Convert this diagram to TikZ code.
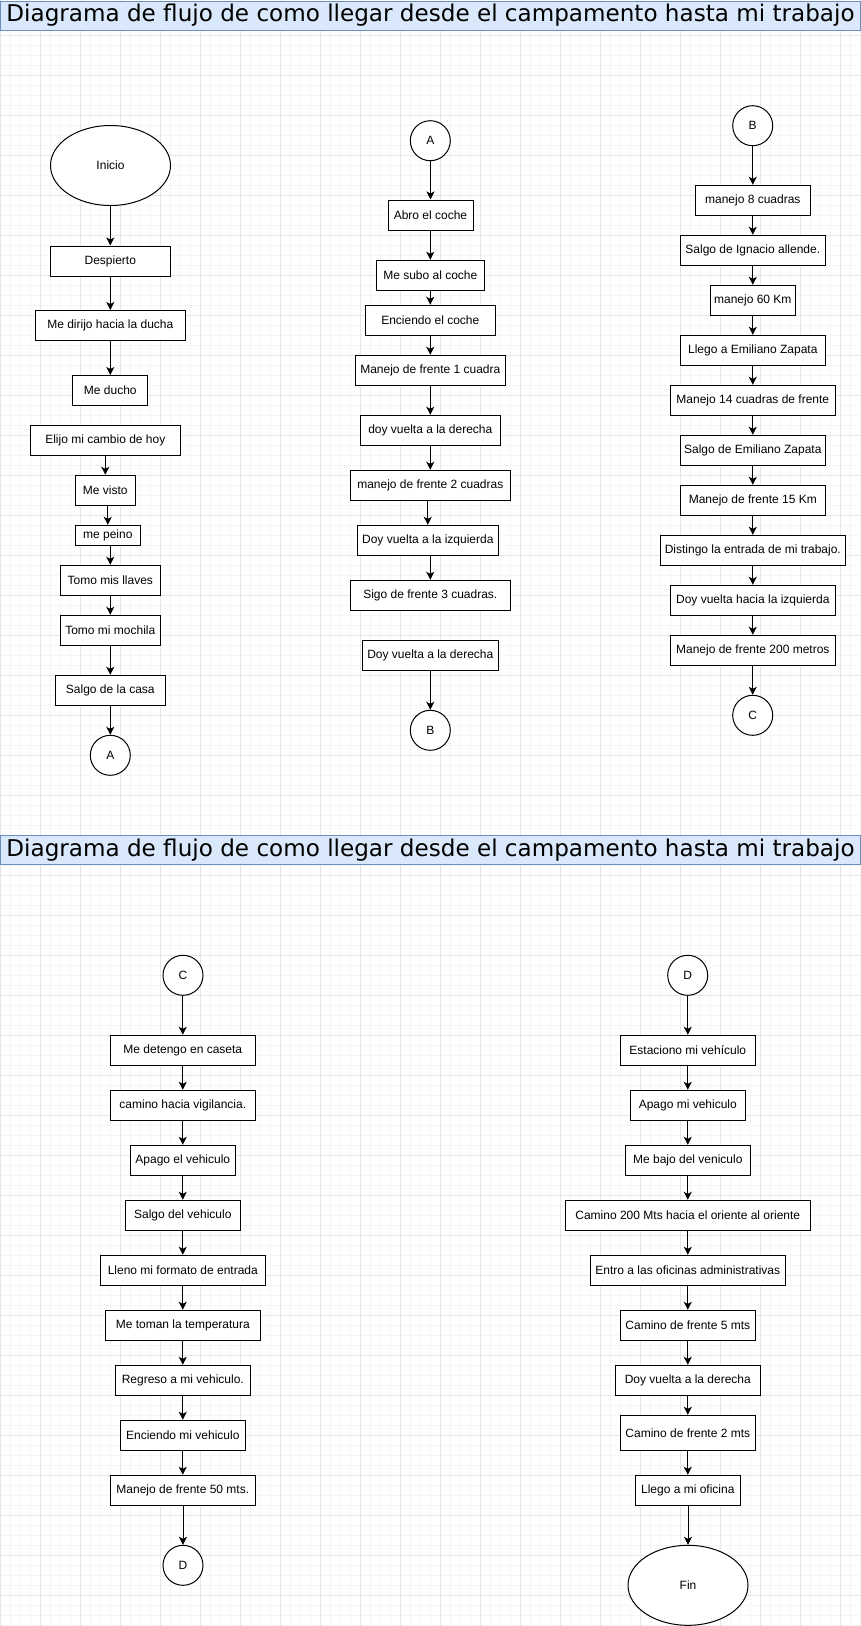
\documentclass[tikz,border=0pt]{standalone}
\usepackage{fontspec}
\usepackage{graphicx}
\setmainfont{Liberation Sans}
\newfontfamily\titlefont{DejaVu Sans}
\usetikzlibrary{shapes.geometric,arrows.meta,calc}
\definecolor{gridminor}{HTML}{F5F5F5}
\definecolor{gridmajor}{HTML}{E6E6E6}
\definecolor{titlefill}{HTML}{DAE8FC}
\definecolor{titledraw}{HTML}{6C8EBF}
\tikzset{
  box/.style={draw, fill=white, line width=1pt, inner sep=0pt, minimum height=30pt,
              font=\fontsize{12}{14}\selectfont},
  oval/.style={ellipse, draw, fill=white, line width=1pt, inner sep=0pt,
              minimum width=120pt, minimum height=80pt, font=\fontsize{12}{14}\selectfont},
  conn/.style={circle, draw, fill=white, line width=1pt, inner sep=0pt,
              minimum size=40pt, font=\fontsize{12}{14}\selectfont},
  titlebar/.style={draw=titledraw, fill=titlefill, line width=1pt, inner sep=0pt,
              minimum width=860pt, minimum height=29pt},
  arr/.style={line width=1pt, -{Stealth[length=8pt,width=8pt,inset=2pt]}}
}
\newcommand{\ttltext}{\resizebox{848pt}{!}{\titlefont Diagrama de flujo de como llegar desde el campamento hasta mi trabajo}}
\begin{document}
\begin{tikzpicture}[x=1pt,y=-1pt]
\useasboundingbox (0,0) rectangle (861,1626);
\fill[white] (0,0) rectangle (861,1626);
% grid
\foreach \x in {0,10,...,860} \draw[gridminor, line width=0.7pt] (\x,0) -- (\x,1626);
\foreach \y in {5,15,...,1625} \draw[gridminor, line width=0.7pt] (0,\y) -- (861,\y);
\foreach \x in {0,40,...,860} \draw[gridmajor, line width=0.7pt] (\x,0) -- (\x,1626);
\foreach \y in {35,75,...,1625} \draw[gridmajor, line width=0.7pt] (0,\y) -- (861,\y);
% titles
\node[titlebar] (t1) at (430.5,15.5) {\ttltext};
\node[titlebar] (t2) at (430.5,850) {\ttltext};
% left column (top)
\node[oval] (inicio) at (110.5,165.5) {Inicio};
\node[box, minimum width=120pt] (despierto) at (110.3,261) {Despierto};
\node[box, minimum width=150pt] (dirijo) at (110.3,325.5) {Me dirijo hacia la ducha};
\node[box, minimum width=75pt] (ducho) at (110.3,390.5) {Me ducho};
\node[box, minimum width=150pt] (elijo) at (105.3,440.3) {Elijo mi cambio de hoy};
\node[box, minimum width=60pt] (visto) at (105.3,490.3) {Me visto};
\node[box, minimum width=65pt, minimum height=20pt] (peino) at (107.8,535.3) {me peino};
\node[box, minimum width=100pt] (llaves) at (110.3,580.3) {Tomo mis llaves};
\node[box, minimum width=100pt] (mochila) at (110.3,630.3) {Tomo mi mochila};
\node[box, minimum width=110pt] (casa) at (110.3,690.3) {Salgo de la casa};
\node[conn] (A1) at (110.3,755.3) {A};
% middle column
\node[conn] (A2) at (430.3,140.7) {A};
\node[box, minimum width=85pt] (abro) at (430.5,215) {Abro el coche};
\node[box, minimum width=108pt] (subo) at (430.3,275.3) {Me subo al coche};
\node[box, minimum width=130pt] (enc) at (430.3,320.3) {Enciendo el coche};
\node[box, minimum width=150pt] (man1) at (430.3,370.3) {Manejo de frente 1 cuadra};
\node[box, minimum width=140pt] (doyder) at (430.3,430.3) {doy vuelta a la derecha};
\node[box, minimum width=160pt] (man2) at (430.3,485.3) {manejo de frente 2 cuadras};
\node[box, minimum width=141pt] (izq) at (427.8,540.3) {Doy vuelta a la izquierda};
\node[box, minimum width=160pt] (sigo) at (430.3,595.3) {Sigo de frente 3 cuadras.};
\node[box, minimum width=136pt] (der2) at (430.3,655.3) {Doy vuelta a la derecha};
\node[conn] (B1) at (430.3,730.3) {B};
% right column
\node[conn] (B2) at (752.7,125.7) {B};
\node[box, minimum width=115pt] (r1) at (752.8,200.3) {manejo 8 cuadras};
\node[box, minimum width=145pt] (r2) at (752.8,250.3) {Salgo de Ignacio allende.};
\node[box, minimum width=85pt] (r3) at (752.8,300.3) {manejo 60 Km};
\node[box, minimum width=145pt] (r4) at (752.8,350.3) {Llego a Emiliano Zapata};
\node[box, minimum width=165pt] (r5) at (752.8,400.3) {Manejo 14 cuadras de frente};
\node[box, minimum width=145pt] (r6) at (752.8,450.3) {Salgo de Emiliano Zapata};
\node[box, minimum width=145pt] (r7) at (752.8,500.3) {Manejo de frente 15 Km};
\node[box, minimum width=185pt] (r8) at (752.8,550.3) {Distingo la entrada de mi trabajo.};
\node[box, minimum width=165pt] (r9) at (752.8,600.3) {Doy vuelta hacia la izquierda};
\node[box, minimum width=165pt] (r10) at (752.8,650.3) {Manejo de frente 200 metros};
\node[conn] (C1) at (752.7,715.3) {C};
% bottom left column
\node[conn] (C2) at (183,975.3) {C};
\node[box, minimum width=145pt] (l1) at (182.8,1050.3) {Me detengo en caseta};
\node[box, minimum width=145pt] (l2) at (182.8,1105.3) {camino hacia vigilancia.};
\node[box, minimum width=105pt] (l3) at (182.8,1160.3) {Apago el vehiculo};
\node[box, minimum width=115pt] (l4) at (182.8,1215.3) {Salgo del vehiculo};
\node[box, minimum width=165pt] (l5) at (182.8,1270.3) {Lleno mi formato de entrada};
\node[box, minimum width=155pt] (l6) at (182.8,1325.3) {Me toman la temperatura};
\node[box, minimum width=135pt] (l7) at (182.8,1380.3) {Regreso a mi vehiculo.};
\node[box, minimum width=125pt] (l8) at (182.8,1435.3) {Enciendo mi vehiculo};
\node[box, minimum width=145pt] (l9) at (182.8,1490.3) {Manejo de frente 50 mts.};
\node[conn] (D1) at (183,1565.3) {D};
% bottom right column
\node[conn] (D2) at (687.7,975.3) {D};
\node[box, minimum width=135pt] (m1) at (687.8,1050.3) {Estaciono mi vehículo};
\node[box, minimum width=115pt] (m2) at (687.8,1105.3) {Apago mi vehiculo};
\node[box, minimum width=125pt] (m3) at (687.8,1160.3) {Me bajo del veniculo};
\node[box, minimum width=245pt] (m4) at (687.8,1215.3) {Camino 200 Mts hacia el oriente al oriente};
\node[box, minimum width=195pt] (m5) at (687.8,1270.3) {Entro a las oficinas administrativas};
\node[box, minimum width=135pt] (m6) at (687.8,1325.3) {Camino de frente 5 mts};
\node[box, minimum width=145pt] (m7) at (687.8,1380.3) {Doy vuelta a la derecha};
\node[box, minimum width=135pt, minimum height=35pt] (m8) at (687.8,1432.8) {Camino de frente 2 mts};
\node[box, minimum width=105pt] (m9) at (687.8,1490.3) {Llego a mi oficina};
\node[oval] (fin) at (688,1585.3) {Fin};
% connectors
\foreach \a/\b in {inicio/despierto, despierto/dirijo, dirijo/ducho, elijo/visto, visto/peino,
  peino/llaves, llaves/mochila, mochila/casa, casa/A1,
  A2/abro, abro/subo, subo/enc, enc/man1, man1/doyder, doyder/man2, man2/izq, izq/sigo, der2/B1,
  B2/r1, r1/r2, r2/r3, r3/r4, r4/r5, r5/r6, r6/r7, r7/r8, r8/r9, r9/r10, r10/C1,
  C2/l1, l1/l2, l2/l3, l3/l4, l4/l5, l5/l6, l6/l7, l7/l8, l8/l9, l9/D1,
  D2/m1, m1/m2, m2/m3, m3/m4, m4/m5, m5/m6, m6/m7, m7/m8, m8/m9, m9/fin}
  \draw[arr] (\b.north |- \a.south) -- (\b.north);
\end{tikzpicture}
\end{document}
